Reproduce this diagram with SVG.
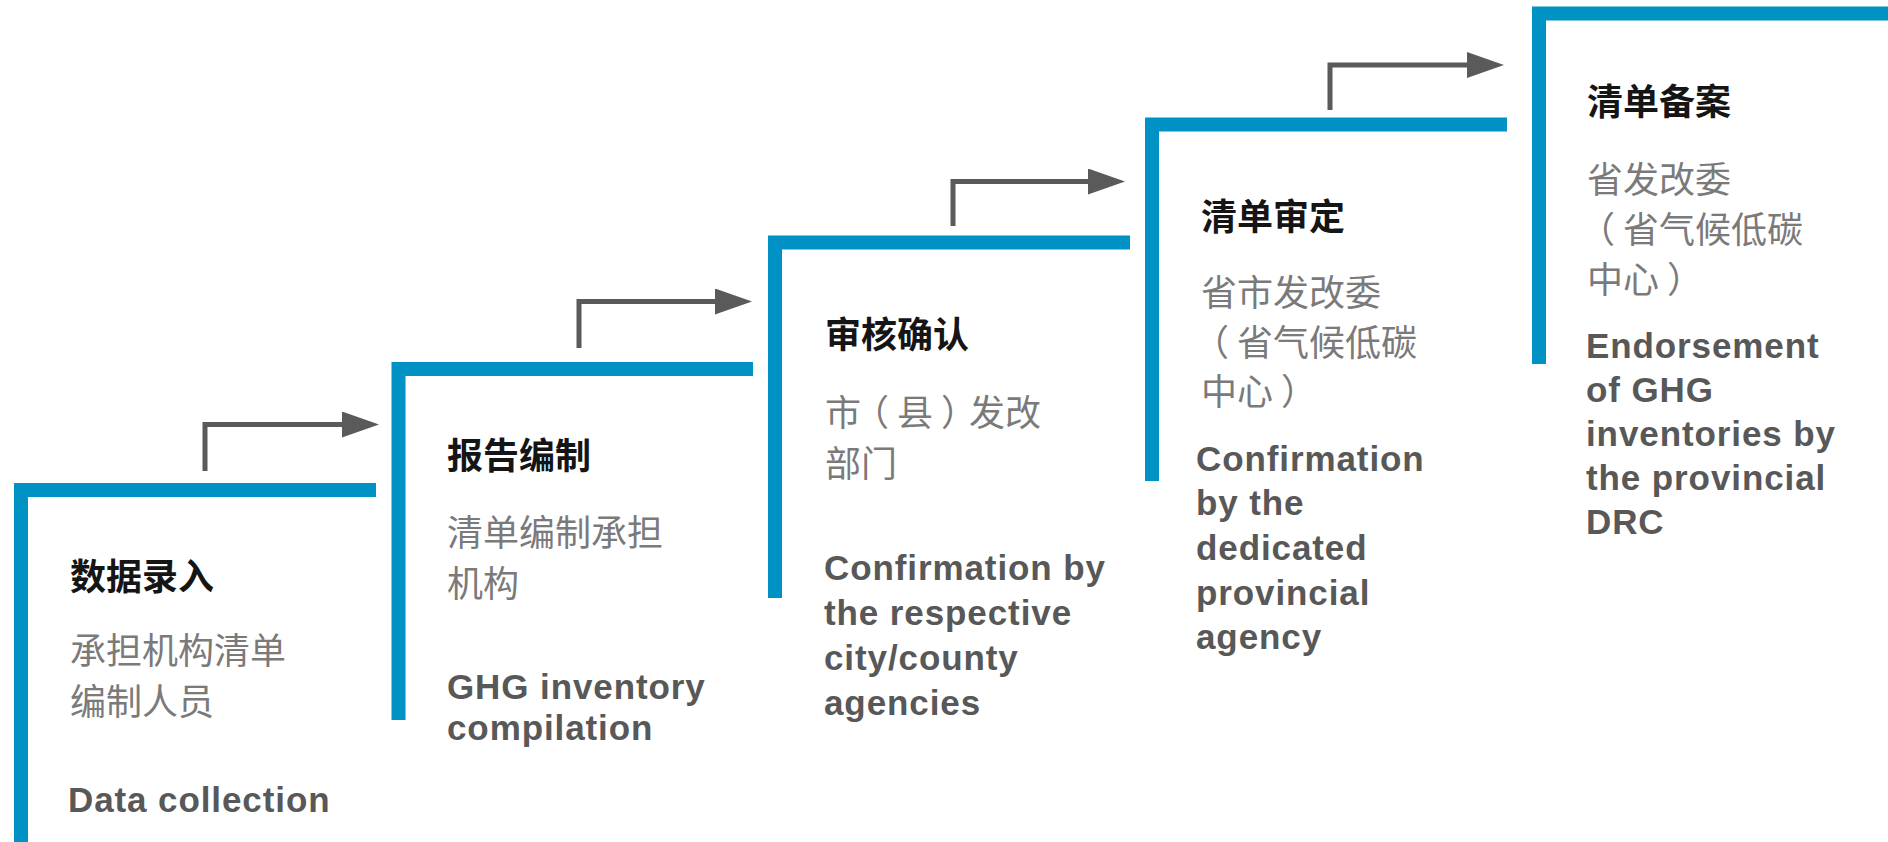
<svg xmlns="http://www.w3.org/2000/svg" width="1888" height="842" viewBox="0 0 1888 842">
  <style>
    .bar { fill: none; stroke: #0091c5; stroke-width: 14; stroke-linejoin: miter; stroke-linecap: butt; }
    .title { font-family: "Noto Sans CJK SC", "Noto Sans", sans-serif; font-size: 36px; font-weight: 700; fill: #151515; }
    .sub { font-family: "Noto Sans CJK SC", "Noto Sans", sans-serif; font-size: 36px; font-weight: 400; fill: #7a7a7a; }
    .en { font-family: "Liberation Sans", Arial, sans-serif; font-size: 35px; font-weight: 700; fill: #585858; letter-spacing: 0.9px; }
    .conn { fill: none; stroke: #5a5a5a; stroke-width: 5; stroke-linejoin: miter; }
  </style>
  <defs>
    <marker id="ah" markerUnits="userSpaceOnUse" markerWidth="38" markerHeight="26" refX="2" refY="13" orient="auto">
      <path d="M0,0 L37,13 L0,26 Z" fill="#5a5a5a"/>
    </marker>
  </defs>
  <rect width="1888" height="842" fill="#ffffff"/>

  <g id="step1">
    <path class="bar" d="M21,842 V490 H376"/>
    <text class="title" x="70" y="590">数据录入</text>
    <text class="sub" x="70" y="664">承担机构清单</text>
    <text class="sub" x="70" y="715">编制人员</text>
    <text class="en" x="68" y="812">Data collection</text>
  </g>

  <g id="step2">
    <path class="bar" d="M398.5,720 V369 H753"/>
    <text class="title" x="447" y="469">报告编制</text>
    <text class="sub" x="447" y="546">清单编制承担</text>
    <text class="sub" x="447" y="597">机构</text>
    <text class="en" x="447" y="699">GHG inventory</text>
    <text class="en" x="447" y="740">compilation</text>
  </g>

  <g id="step3">
    <path class="bar" d="M775,598 V242.5 H1130"/>
    <text class="title" x="825" y="348">审核确认</text>
    <text class="sub" x="825 853 897 941 969 1005" y="426">市（县）发改</text>
    <text class="sub" x="825" y="477">部门</text>
    <text class="en" x="824" y="580">Confirmation by</text>
    <text class="en" x="824" y="625">the respective</text>
    <text class="en" x="824" y="670">city/county</text>
    <text class="en" x="824" y="715">agencies</text>
  </g>

  <g id="step4">
    <path class="bar" d="M1152,481 V124.5 H1507"/>
    <text class="title" x="1201" y="230">清单审定</text>
    <text class="sub" x="1201" y="306">省市发改委</text>
    <text class="sub" x="1193 1237 1273 1309 1345 1381" y="356">（省气候低碳</text>
    <text class="sub" x="1201 1237 1281" y="405">中心）</text>
    <text class="en" x="1196" y="471">Confirmation</text>
    <text class="en" x="1196" y="515">by the</text>
    <text class="en" x="1196" y="560">dedicated</text>
    <text class="en" x="1196" y="605">provincial</text>
    <text class="en" x="1196" y="649">agency</text>
  </g>

  <g id="step5">
    <path class="bar" d="M1539,364 V13.5 H1888"/>
    <text class="title" x="1587" y="115">清单备案</text>
    <text class="sub" x="1587" y="193">省发改委</text>
    <text class="sub" x="1579 1623 1659 1695 1731 1767" y="243">（省气候低碳</text>
    <text class="sub" x="1587 1623 1667" y="293">中心）</text>
    <text class="en" x="1586" y="358">Endorsement</text>
    <text class="en" x="1586" y="402">of GHG</text>
    <text class="en" x="1586" y="446">inventories by</text>
    <text class="en" x="1586" y="490">the provincial</text>
    <text class="en" x="1586" y="534">DRC</text>
  </g>

  <g id="connectors">
    <path class="conn" d="M205,471 V424.5 H344" marker-end="url(#ah)"/>
    <path class="conn" d="M579,348 V301.5 H717" marker-end="url(#ah)"/>
    <path class="conn" d="M953,226 V181.5 H1090" marker-end="url(#ah)"/>
    <path class="conn" d="M1330,110 V65 H1469" marker-end="url(#ah)"/>
  </g>
</svg>
